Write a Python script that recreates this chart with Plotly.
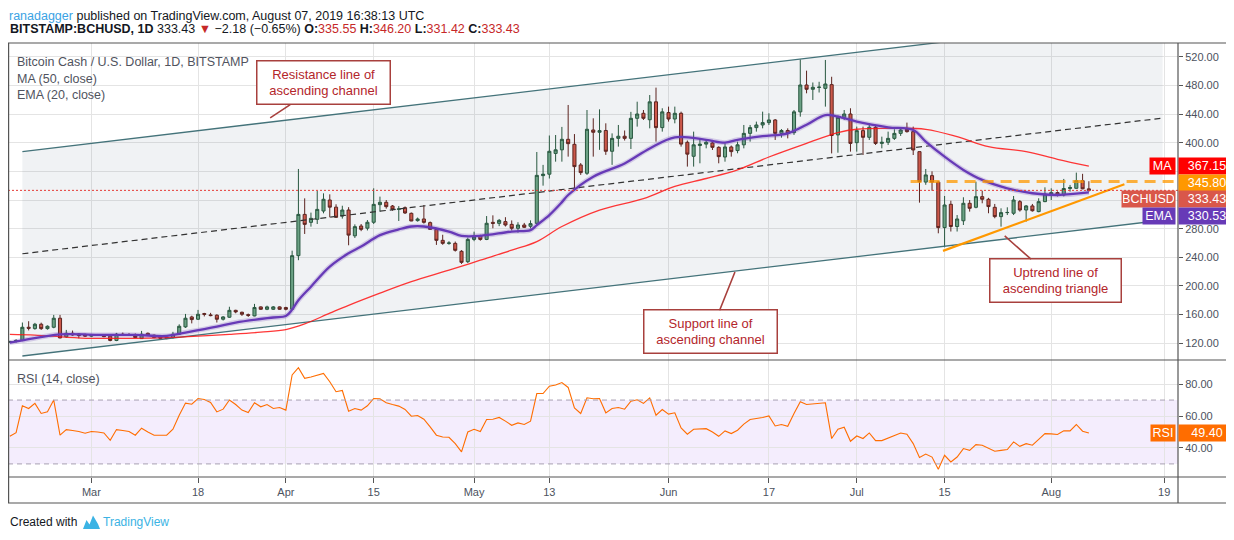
import pandas as pd
import plotly.graph_objects as go
from plotly.subplots import make_subplots

# ---- daily candles, BITSTAMP BCHUSD ----
start_date = "2019-02-16"

open_ = [
    121.5, 122.5, 124, 142.4, 140.5, 146.6, 140.5, 142.4, 155, 129, 134, 133, 132,
    130, 132, 131.3, 130, 124, 132.7, 132, 131.8, 126.6, 134, 131.3, 128.9, 128.5, 128, 132.7, 142.9,
    156.8, 153.6, 161.5, 159.6, 159.2, 153.6, 156.4, 166, 163.3, 160, 158.2, 170.8, 167.5, 167.5, 170.8,
    169.9, 167.5, 242.3, 299.9, 288.8, 293, 304.6, 320, 310, 297.6, 306, 270, 283.7, 280.7, 288.9,
    313.5, 316.8, 311.6, 307, 309.3, 301.4, 291.2, 293.5, 288.4, 279, 263.7, 259.5, 259.5, 248.4, 233.9,
    265, 269.8, 265, 288.8, 287.4, 289.8, 286, 280.5, 285.1, 283.3, 287.4, 354, 356, 385, 390,
    404.7, 397.7, 368.9, 357.3, 417.7, 414.5, 417, 388, 406, 409, 406, 434, 441, 432, 457, 421,
    442, 433, 441, 400.5, 381, 396, 398, 399.6, 393.5, 380, 394, 389, 397, 413, 421,
    424.7, 428, 431.7, 413, 417, 414, 443, 480.5, 474.5, 477, 475.8, 481, 410.8, 435.4, 440,
    400, 416.8, 407.5, 421.5, 399, 400.5, 406, 413, 418.7, 415.4, 387.5, 345, 354, 345, 281.5,
    314, 283, 291, 315.4, 309.8, 324.7, 321, 309.8, 296.8, 302.4, 301.5, 317.7, 306, 311.7, 303.8, 317.7,
    326.4, 330.3, 327, 336, 336.3, 347, 335.55,
]
high = [
    123.5, 125.7, 149, 150.8, 148.5, 148.8, 145, 159.6, 159.6, 138.7, 137.8, 134, 133.5,
    133, 133, 132, 130.8, 134.5, 135, 134.2, 133.7, 137.3, 135, 132.2, 130, 129, 136, 146.5, 161,
    158.5, 166.6, 162.5, 162.5, 160.5, 158, 171, 166.8, 164.2, 161.5, 175, 171.5, 172.5, 172, 171.5,
    171, 249.3, 363.3, 322.3, 302.4, 332.5, 329.3, 327.9, 314, 312, 310, 286, 286.5, 292, 336.3,
    324.7, 320, 313, 311.5, 311, 302.5, 295.5, 313, 290, 281, 271.5, 262.5, 262, 250, 267.5,
    275.8, 271.5, 297.6, 298.6, 293.5, 296, 291.5, 289, 288, 291.6, 387, 369, 410, 410.7, 422,
    452.6, 412, 371.5, 445.6, 434, 446.5, 427, 413, 424.7, 417, 443, 457.2, 445.6, 466.5, 476.8, 448,
    450.3, 450.3, 443.3, 403, 415.4, 406, 404.7, 403.8, 395, 399.1, 396, 401.4, 424.7, 424.7, 429.4,
    443.3, 441, 433, 419, 420, 445.6, 516.3, 500.5, 484, 485, 515.4, 492, 438, 445.6, 448,
    422.4, 422.4, 427, 424.7, 408.4, 415.4, 418.7, 421.5, 428, 422.4, 387.5, 363.3, 360, 346, 325.6,
    319, 299, 323.8, 320, 345.6, 333, 323, 314.5, 308.4, 309.8, 325.6, 320, 313, 314.5, 322.4, 337.7,
    336.3, 332, 349.4, 341, 358.2, 356.5, 346.2,
]
low = [
    120.5, 121, 123, 138, 139, 138.7, 139, 141, 127, 127.5, 130.5, 127, 128.8,
    129, 130.3, 128.5, 122.8, 123, 131, 130.8, 127.5, 126, 131, 127.2, 126, 125.8, 126.5, 131.5, 141.5,
    147.8, 152.5, 157.5, 157.7, 149, 151.8, 155.6, 161.9, 158.2, 156.8, 157.7, 166.8, 166.3, 166.5, 166.8,
    166, 166.5, 236, 272.6, 282.8, 286.5, 301.4, 295.8, 294.9, 294, 256.8, 267, 276.5, 277.5, 286.5,
    303.7, 307.9, 305, 290.7, 300.5, 290.5, 289.8, 287, 279, 257.3, 257.5, 257.5, 248, 230.8, 232,
    262.5, 263.2, 264, 280.5, 283.5, 283, 277.5, 274.5, 281, 280.3, 285.5, 340, 350, 373.5, 373.5,
    380.5, 336, 355, 355, 380.5, 390, 383, 369, 394.5, 403, 391.2, 422.4, 431.7, 420, 401.4, 415.4,
    429.4, 427, 394.5, 366.6, 366.6, 371.2, 392.1, 389.8, 371.2, 373.5, 380.5, 385.2, 392.1, 401.4, 415.4,
    420, 424.7, 403.8, 407, 406, 410.8, 436.3, 468.9, 459.6, 470, 450.3, 385, 386, 431.7, 387.5,
    387.5, 382.8, 403.8, 396.8, 392.1, 396.8, 403.8, 409.4, 414, 382.8, 316.3, 341.2, 333, 273.5, 254,
    276, 276, 285.1, 303.8, 308.4, 315.4, 301.5, 294.5, 282.8, 299, 299, 303.8, 289.8, 303.8, 302.9, 317,
    320, 325, 325, 331.7, 336, 335, 331.42,
]
close = [
    122.5, 124, 142.4, 141, 146.6, 140.5, 143.8, 155, 127.5, 134, 131.7, 130.8, 130,
    132, 131.2, 129.3, 124, 132.7, 132, 131.8, 128, 132.7, 131.3, 128, 127, 126.6, 132.7, 143.8, 155,
    153.1, 160.5, 160.5, 158.7, 153.6, 156.8, 166, 163.8, 160.5, 159, 170, 167.5, 170.8, 170.8, 167.5,
    167.5, 242.3, 299.9, 286, 294.4, 306.9, 321, 310, 295.8, 306, 271, 282.8, 279, 288.9, 313.9,
    316.8, 310.7, 307, 307.5, 301.9, 290.7, 293.5, 288.8, 279, 263.7, 259.5, 260, 249.8, 233, 265,
    268.4, 265, 287.5, 287.4, 291.6, 285.1, 280.5, 285.1, 281.9, 287, 354.4, 356, 388, 390, 404.7,
    398.6, 366.6, 358.2, 418.7, 414.5, 416.8, 388, 406, 409, 406, 434, 440, 434, 457, 421, 443,
    433, 441, 398, 384, 397, 398, 400.5, 393.5, 380.5, 394, 387.5, 397, 413, 421, 424.7,
    428, 431.7, 413, 417, 413, 443, 480.5, 474.5, 477.3, 477.5, 481.9, 410, 435.4, 440, 399,
    416.8, 407.5, 421.5, 399, 400.5, 406, 413, 417.7, 415.4, 389.8, 345.6, 355, 345, 281.5, 313,
    283, 293.5, 315.4, 308.4, 324.7, 321, 310.8, 296.8, 302.4, 302.6, 320, 306, 311.7, 305, 317.7, 328.4,
    330.3, 327, 336, 337.5, 347, 335.61, 333.43,
]

# RSI (14, close), one value per day from start_date
rsi = [
    47.3, 49.6, 66.4, 64.7, 67.9, 61.6, 62.6, 70.0, 48.0, 51.5, 50.9, 50.3, 49.2,
    50.3, 50.0, 49.4, 44.8, 51.5, 50.9, 50.3, 48.0, 52.4, 50.0, 48.0, 48.0, 48.0, 51.7, 60.5, 68.1,
    67.4, 71.0, 70.4, 68.5, 62.6, 64.3, 70.0, 67.2, 63.7, 62.2, 68.3, 65.8, 67.2, 64.7, 65.3,
    63.7, 85.7, 90.3, 83.6, 84.4, 85.4, 86.7, 81.5, 75.2, 76.0, 63.0, 64.7, 63.7, 66.4, 71.0,
    70.8, 68.3, 67.2, 66.2, 64.1, 59.9, 60.3, 58.0, 53.2, 48.0, 46.9, 46.7, 42.7, 37.5, 50.0,
    51.7, 50.3, 57.8, 58.0, 59.1, 56.8, 54.2, 55.7, 54.7, 56.8, 74.1, 74.1, 78.7, 79.4, 81.0,
    77.9, 65.1, 61.6, 71.4, 70.8, 71.0, 62.0, 64.7, 65.3, 64.3, 69.3, 70.2, 67.9, 71.4, 60.5, 64.1,
    61.2, 62.0, 52.6, 48.6, 51.7, 51.7, 52.1, 50.0, 47.3, 50.7, 49.0, 51.1, 54.9, 57.8, 58.4,
    59.1, 60.1, 53.8, 54.7, 53.6, 61.6, 68.9, 67.2, 67.6, 67.6, 68.3, 45.9, 51.7, 53.0, 44.2,
    47.5, 45.9, 49.4, 44.6, 44.6, 46.3, 48.0, 49.4, 48.6, 42.7, 34.1, 36.2, 34.3, 26.6, 35.4,
    31.2, 34.3, 39.6, 38.5, 42.1, 41.7, 40.0, 37.9, 38.5, 39.0, 43.8, 41.0, 42.7, 41.7, 45.4, 49.0,
    48.8, 48.4, 50.7, 50.7, 54.7, 50.5, 49.4,
]

# MA (50, close) read at a handful of dates
ma_dates = ["2019-02-16", "2019-02-20", "2019-02-25", "2019-03-01", "2019-03-08", "2019-03-13",
            "2019-03-18", "2019-03-23", "2019-03-28", "2019-04-01", "2019-04-04", "2019-04-08",
            "2019-04-11", "2019-04-16", "2019-04-21", "2019-04-27", "2019-05-02", "2019-05-07",
            "2019-05-11", "2019-05-15", "2019-05-21", "2019-05-28", "2019-06-02", "2019-06-07",
            "2019-06-12", "2019-06-17", "2019-06-23", "2019-06-28", "2019-07-01", "2019-07-06",
            "2019-07-12", "2019-07-17", "2019-07-22", "2019-07-28", "2019-08-02", "2019-08-07"]
ma_vals = [132.5, 131.5, 128.5, 127, 127, 128, 130, 132.5, 135.5, 139, 147, 162,
           173, 190, 206, 222, 236, 250, 262, 283, 306, 322, 339, 350,
           362, 380, 399, 414, 418.7, 420, 418.7, 408.4, 394.5, 387.5, 376.8, 367.15]

# EMA (20, close)
ema_dates = ["2019-02-16", "2019-02-18", "2019-02-24", "2019-03-02", "2019-03-08", "2019-03-13",
             "2019-03-16", "2019-03-21", "2019-03-24", "2019-03-30", "2019-04-01", "2019-04-02",
             "2019-04-03", "2019-04-05", "2019-04-08", "2019-04-11", "2019-04-13", "2019-04-16",
             "2019-04-19", "2019-04-21", "2019-04-23", "2019-04-27", "2019-04-29", "2019-05-02",
             "2019-05-07", "2019-05-10", "2019-05-11", "2019-05-13", "2019-05-15", "2019-05-16",
             "2019-05-20", "2019-05-25", "2019-05-29", "2019-06-02", "2019-06-07", "2019-06-10",
             "2019-06-12", "2019-06-16", "2019-06-20", "2019-06-23", "2019-06-26", "2019-06-28",
             "2019-07-01", "2019-07-06", "2019-07-10", "2019-07-12", "2019-07-15", "2019-07-18",
             "2019-07-21", "2019-07-25", "2019-07-29", "2019-08-02", "2019-08-07"]
ema_vals = [121, 124, 132.6, 131.7, 131.7, 130.3, 135, 143.3, 149, 156, 158, 167,
            180, 199, 227, 245.6, 255, 271, 279, 283, 283, 276, 270, 270,
            276, 278, 285, 299, 317, 327, 352.6, 371, 392, 407.5, 404, 400,
            404, 409, 413, 425, 438.6, 436.5, 429.4, 421.5, 417.7, 401.5, 380.5, 362,
            348, 336.3, 329.4, 327, 330.53]

# hand drawn objects on the chart
channel_dates = ["2019-02-18", "2019-08-18 18:00"]
support_line = [102.3, 291.7]
resistance_line = [387.6, 576.9]
channel_mid = [245.0, 434.3]
uptrend_dates = ["2019-07-14 18:00", "2019-08-12 16:00"]
uptrend_line = [249.0, 342.0]
triangle_top_start = "2019-07-09 14:00"
triangle_top = 345.80
last_price = 333.43
ma_last = 367.15
ema_last = 330.53
rsi_last = 49.40

x_range = ["2019-02-15 17:00", "2019-08-21 05:00"]
x_ticks = ["2019-03-01", "2019-03-18", "2019-04-01", "2019-04-15", "2019-05-01", "2019-05-13",
           "2019-06-01", "2019-06-17", "2019-07-01", "2019-07-15", "2019-08-01", "2019-08-19"]
x_tick_text = ["Mar", "18", "Apr", "15", "May", "13", "Jun", "17", "Jul", "15", "Aug", "19"]
price_ticks = [120, 160, 200, 240, 280, 320, 360, 400, 440, 480, 520]
hidden_price_ticks = [320, 360]   # covered by the value tags on the original
rsi_ticks = [40, 60, 80]

dates = pd.date_range(start_date, periods=len(close), freq="D")
rsi_dates = pd.date_range(start_date, periods=len(rsi), freq="D")

# pixel layout of the snapshot (page pixels); the page body adds an 8px offset
W, H = 1234, 540
OFF = 8
L, R, T, B = 8, 1178, 43, 477
SPLIT = 360


def px(X):
    return (X - L) / (R - L)


def py(Y):
    return (B - Y) / (B - T)


FONT = "Liberation Sans"
GRID = "#e4e4e4"
FRAME = "#555555"

fig = make_subplots(rows=2, cols=1, shared_xaxes=True, vertical_spacing=0,
                    row_heights=[(SPLIT - T) / (B - T), (B - SPLIT) / (B - T)])

# channel background
fig.add_trace(go.Scatter(
    x=[channel_dates[0], channel_dates[1], channel_dates[1], channel_dates[0], channel_dates[0]],
    y=[support_line[0], support_line[1], resistance_line[1], resistance_line[0], support_line[0]],
    mode="lines", fill="toself", fillcolor="rgba(110,125,150,0.10)",
    line=dict(width=0), hoverinfo="skip"), row=1, col=1)
for ys in (support_line, resistance_line):
    fig.add_trace(go.Scatter(x=channel_dates, y=ys, mode="lines",
                             line=dict(color="#44737a", width=1.3), hoverinfo="skip"), row=1, col=1)
fig.add_trace(go.Scatter(x=channel_dates, y=channel_mid, mode="lines",
                         line=dict(color="#333333", width=1.2, dash="6px,4px"),
                         hoverinfo="skip"), row=1, col=1)

# moving averages
fig.add_trace(go.Scatter(x=ma_dates, y=ma_vals, mode="lines", line_shape="spline",
                         line=dict(color="rgba(255,20,20,0.85)", width=1.3)), row=1, col=1)
fig.add_trace(go.Scatter(x=ema_dates, y=ema_vals, mode="lines", line_shape="spline",
                         line=dict(color="rgba(103,58,183,0.22)", width=5)), row=1, col=1)
fig.add_trace(go.Scatter(x=ema_dates, y=ema_vals, mode="lines", line_shape="spline",
                         line=dict(color="#673ab7", width=2.3)), row=1, col=1)

fig.add_trace(go.Candlestick(
    x=dates, open=open_, high=high, low=low, close=close,
    increasing=dict(fillcolor="#6ba583", line=dict(color="#225437", width=1)),
    decreasing=dict(fillcolor="#d75442", line=dict(color="#5b1a13", width=1)),
    whiskerwidth=0), row=1, col=1)

# ascending triangle drawings
fig.add_trace(go.Scatter(x=uptrend_dates, y=uptrend_line, mode="lines",
                         line=dict(color="#ff9800", width=2.2), hoverinfo="skip"), row=1, col=1)
fig.add_trace(go.Scatter(x=[triangle_top_start, x_range[1]], y=[triangle_top, triangle_top],
                         mode="lines", line=dict(color="rgba(255,152,0,0.75)", width=3, dash="11px,7px"),
                         hoverinfo="skip"), row=1, col=1)

# RSI pane
fig.add_trace(go.Scatter(x=rsi_dates, y=rsi, mode="lines",
                         line=dict(color="#ff6d00", width=1.1)), row=2, col=1)

shapes = [
    dict(type="rect", xref="x2 domain", x0=0, x1=1, yref="y2", y0=30, y1=70,
         fillcolor="rgba(149,76,233,0.1)", line=dict(width=0), layer="below"),
    dict(type="line", xref="x2 domain", x0=0, x1=1, yref="y2", y0=70, y1=70,
         line=dict(color="#a8a0b2", width=1, dash="5px,4px")),
    dict(type="line", xref="x2 domain", x0=0, x1=1, yref="y2", y0=30, y1=30,
         line=dict(color="#a8a0b2", width=1, dash="5px,4px")),
    dict(type="line", xref="x domain", x0=0, x1=1, yref="y", y0=last_price, y1=last_price,
         line=dict(color="#e53935", width=1, dash="2px,2px")),
    # frame
    dict(type="rect", xref="paper", yref="paper", x0=px(8.6), x1=px(1231), y0=py(503), y1=py(T),
         line=dict(color=FRAME, width=1.2)),
    dict(type="line", xref="paper", yref="paper", x0=px(8.6), x1=px(1231), y0=py(SPLIT), y1=py(SPLIT),
         line=dict(color=FRAME, width=1.2)),
    dict(type="line", xref="paper", yref="paper", x0=px(8.6), x1=px(1231), y0=py(B), y1=py(B),
         line=dict(color=FRAME, width=1.2)),
    dict(type="line", xref="paper", yref="paper", x0=px(R), x1=px(R), y0=py(503), y1=py(T),
         line=dict(color=FRAME, width=1.2)),
    # footer logo
    dict(type="path", xref="paper", yref="paper", fillcolor="#3bb3e4", line=dict(width=0),
         path="M {} {} L {} {} L {} {} L {} {} L {} {} L {} {} Z".format(
             px(83), py(529), px(86.5), py(520), px(89.5), py(524.5), px(93), py(515.5),
             px(98), py(524), px(100), py(529))),
]

ann = []
# header
ann.append(dict(xref="paper", yref="paper", x=px(8), y=py(OFF), xanchor="left", yanchor="top",
                showarrow=False, font=dict(family=FONT, size=12.5, color="#131722"), borderpad=0,
                text="<span style='color:#3ba3e4'>ranadagger</span> published on TradingView.com, "
                     "August 07, 2019 16:38:13 UTC"))
red = "#c62828"
ann.append(dict(xref="paper", yref="paper", x=px(8), y=py(29), xanchor="left", yanchor="middle",
                showarrow=False, font=dict(family=FONT, size=12.5, color="#131722"),
                text=("<b>BITSTAMP:BCHUSD, 1D</b> 333.43 <span style='color:%s'>▼</span> −2.18 (−0.65%%) "
                      "<b>O:</b><span style='color:%s'>335.55</span> <b>H:</b><span style='color:%s'>346.20</span> "
                      "<b>L:</b><span style='color:%s'>331.42</span> <b>C:</b><span style='color:%s'>333.43</span>")
                % (red, red, red, red, red)))
# pane legends
for txt, yy in [("Bitcoin Cash / U.S. Dollar, 1D, BITSTAMP", 62), ("MA (50, close)", 79),
                ("EMA (20, close)", 95), ("RSI (14, close)", 379)]:
    ann.append(dict(xref="paper", yref="paper", x=px(15), y=py(yy), xanchor="left", yanchor="middle",
                    showarrow=False, text=txt, font=dict(family=FONT, size=12.5, color="#50535e")))
# footer
ann.append(dict(xref="paper", yref="paper", x=px(8), y=py(522), xanchor="left", yanchor="middle",
                showarrow=False, text="Created with", font=dict(family=FONT, size=12, color="#131722")))
ann.append(dict(xref="paper", yref="paper", x=px(101), y=py(522), xanchor="left", yanchor="middle",
                showarrow=False, text="TradingView", font=dict(family=FONT, size=12, color="#3bb3e4")))

# price scale tags (stacked so they do not overlap, as on the original)
tags = [("MA", "367.15", ma_last, "#ff0000", 0.5, 23),
        (None, "345.80", triangle_top, "#ff9800", -1.8, 0),
        ("BCHUSD", "333.43", last_price, "#d9574a", -8.7, 51),
        ("EMA", "330.53", ema_last, "#673ab7", -23.8, 30)]
for name, val, yv, col, shift, w in tags:
    ann.append(dict(xref="paper", yref="y", x=1, y=yv, xanchor="left", yanchor="middle", yshift=shift,
                    xshift=0, showarrow=False, text=val, bgcolor=col, width=54, height=14, borderpad=1,
                    font=dict(family=FONT, size=12.5, color="white")))
    if name:
        ann.append(dict(xref="paper", yref="y", x=1, y=yv, xanchor="right", yanchor="middle",
                        yshift=shift, xshift=-2, showarrow=False, text=name, bgcolor=col, width=w,
                        height=14, borderpad=1, font=dict(family=FONT, size=12.5, color="white")))
ann.append(dict(xref="paper", yref="y2", x=1, y=rsi_last, xanchor="left", yanchor="middle", xshift=0,
                showarrow=False, text="49.40", bgcolor="#ff6d00", width=54, height=14, borderpad=1,
                font=dict(family=FONT, size=12.5, color="white")))
ann.append(dict(xref="paper", yref="y2", x=1, y=rsi_last, xanchor="right", yanchor="middle", xshift=-2,
                showarrow=False, text="RSI", bgcolor="#ff6d00", width=22, height=14, borderpad=1,
                font=dict(family=FONT, size=12.5, color="white")))

# callouts
callout = dict(showarrow=True, arrowhead=0, arrowwidth=1.6, arrowcolor="#a8403d",
               bordercolor="#a8403d", borderwidth=1.5, borderpad=5, bgcolor="white",
               font=dict(family=FONT, size=13, color="#b3262b"), xref="x", yref="y")
ann.append(dict(callout, x="2019-03-29 12:00", y=434.5, ax=53, ay=-35, width=122,
                text="Resistance line of<br>ascending channel"))
ann.append(dict(callout, x="2019-06-11 14:00", y=219.6, ax=-24, ay=60, width=122,
                text="Support line of<br>ascending channel"))
ann.append(dict(callout, x="2019-07-24 14:00", y=269.8, ax=51, ay=45, width=120,
                text="Uptrend line of<br>ascending triangle"))

fig.update_layout(
    width=W, height=H,
    margin=dict(l=L - OFF, r=W - (R - OFF), t=T - OFF, b=H - (B - OFF)),
    paper_bgcolor="white", plot_bgcolor="white", showlegend=False, hovermode=False,
    font=dict(family=FONT, size=11, color="#4c525e"),
    shapes=shapes, annotations=ann,
)
fig.update_xaxes(type="date", range=x_range, tickvals=x_ticks, ticktext=x_tick_text,
                 showgrid=True, gridcolor=GRID, gridwidth=1, zeroline=False, showline=False,
                 rangeslider_visible=False)
fig.update_xaxes(showticklabels=False, ticks="", row=1, col=1)
fig.update_xaxes(ticks="outside", ticklen=5, tickcolor=FRAME, showticklabels=True,
                 tickfont=dict(size=11, color="#4c525e"), row=2, col=1)
fig.update_yaxes(side="right", range=[96.7, 539.1], tickvals=price_ticks,
                 ticktext=["" if v in hidden_price_ticks else "%.2f" % v for v in price_ticks],
                 ticks="outside", ticklen=4,
                 tickcolor=FRAME, gridcolor=GRID, zeroline=False, showline=False,
                 tickfont=dict(size=11, color="#4c525e"), row=1, col=1)
fig.update_yaxes(side="right", range=[21.8, 95.1], tickvals=rsi_ticks,
                 ticktext=["%.2f" % v for v in rsi_ticks], ticks="outside", ticklen=4,
                 tickcolor=FRAME, gridcolor=GRID, zeroline=False, showline=False,
                 tickfont=dict(size=11, color="#4c525e"), row=2, col=1)

fig.write_html("out.html")
